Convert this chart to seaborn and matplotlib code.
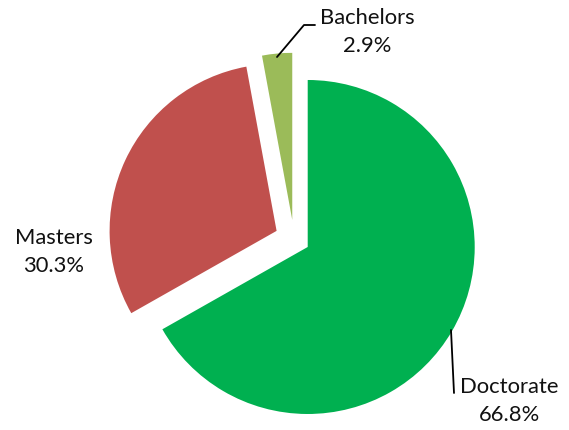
import matplotlib
matplotlib.use("Agg")
import matplotlib.pyplot as plt
import seaborn as sns

# Data
categories = ["Doctorate", "Masters", "Bachelors"]
shares = [66.8, 30.3, 2.9]
colors = ["#00B050", "#C0504D", "#9BBB59"]
explode = [0.095, 0.115, 0.115]

sns.set_theme(style="white")
plt.rcParams['font.family'] = ['Lato', 'DejaVu Sans']

W, H = 569, 430
R = 167.0          # pie radius in pixels
CX, CY = 294, 239  # pie centre in pixels (from top-left)

fig = plt.figure(figsize=(W / 100, H / 100), dpi=100)
ax = fig.add_axes([0, 0, 1, 1])

ax.pie(shares, colors=colors, explode=explode, startangle=90, counterclock=False,
       wedgeprops=dict(linewidth=0))

ax.set_xlim(-CX / R, (W - CX) / R)
ax.set_ylim(-(H - CY) / R, CY / R)
ax.set_aspect("equal")
ax.axis("off")


def px(x, y):
    # pixel position -> data coordinates
    return (x - CX) / R, (CY - y) / R


label_pos = {"Doctorate": (509, 401), "Masters": (54, 252), "Bachelors": (367, 32)}
for cat, val in zip(categories, shares):
    x, y = px(*label_pos[cat])
    ax.text(x, y, f"{cat}\n{val}%", ha="center", va="center", fontsize=15.8,
            color="#111111", linespacing=1.45)

# leader lines
leaders = [[(277, 57), (304, 25), (315, 25)], [(451, 330), (454, 393)]]
for pts in leaders:
    xs, ys = zip(*[px(a, b) for a, b in pts])
    ax.plot(xs, ys, color="black", linewidth=1.3)

plt.savefig("out.png", dpi=100)
